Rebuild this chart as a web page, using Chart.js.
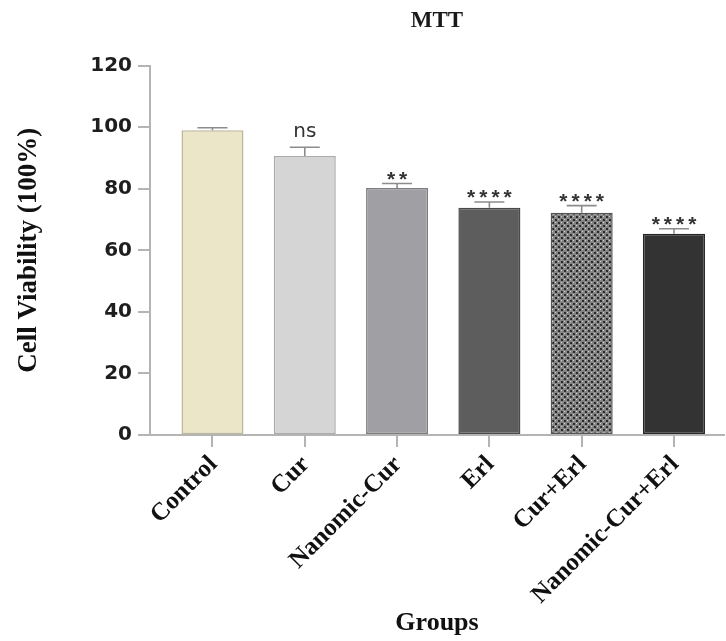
<!DOCTYPE html>
<html>
<head>
<meta charset="utf-8">
<title>MTT</title>
<script src="https://cdn.jsdelivr.net/npm/chart.js@4.4.1/dist/chart.umd.min.js"></script>
<style>
  html, body { margin: 0; padding: 0; background: #ffffff; }
  #wrap { width: 726px; height: 641px; }
</style>
</head>
<body>
<div id="wrap"><canvas id="chart" width="726" height="641"></canvas></div>
<script>
// Treatment groups and their measured cell viability (mean and error)
const categories = ['Control', 'Cur', 'Nanomic-Cur', 'Erl', 'Cur+Erl', 'Nanomic-Cur+Erl'];
const viability = [99.0, 90.6, 80.2, 73.8, 72.2, 65.4];
const errors = [0.8, 2.9, 1.5, 1.9, 2.3, 1.6];
const significance = ['', 'ns', '**', '****', '****', '****'];
const yTicks = [0, 20, 40, 60, 80, 100, 120];

// Dotted fill used for the combination group
function dotPattern() {
  const c = document.createElement('canvas');
  c.width = 6; c.height = 6;
  const g = c.getContext('2d');
  g.fillStyle = '#858585'; g.fillRect(0, 0, 6, 6);
  g.fillStyle = '#2a2a2a'; g.fillRect(0, 0, 2, 2); g.fillRect(3, 3, 2, 2);
  g.fillStyle = '#d2d2d2'; g.fillRect(3, 0, 1, 1); g.fillRect(0, 3, 1, 1);
  return g.createPattern(c, 'repeat');
}

const fills = ['#ece6c8', '#d5d5d5', '#a0a0a4', '#5d5d5d', dotPattern(), '#333333'];
const borders = ['#bdb79c', '#ababab', '#7c7c80', '#4a4a4a', '#555555', '#262626'];

// Error caps and significance marks above each bar
const errorBarPlugin = {
  id: 'errorBars',
  afterDatasetsDraw(chart) {
    const { ctx, scales: { y } } = chart;
    const meta = chart.getDatasetMeta(0);
    ctx.save();
    meta.data.forEach((bar, i) => {
      const cx = bar.x;
      const base = y.getPixelForValue(viability[i]);
      const cap = y.getPixelForValue(viability[i] + errors[i]);
      ctx.strokeStyle = '#8c8c8c';
      ctx.lineWidth = 1.6;
      ctx.beginPath();
      ctx.moveTo(cx, base);
      ctx.lineTo(cx, cap);
      ctx.moveTo(cx - 15, cap);
      ctx.lineTo(cx + 15, cap);
      ctx.stroke();

      const mark = significance[i];
      if (!mark) return;
      ctx.fillStyle = '#333333';
      ctx.textBaseline = 'alphabetic';
      ctx.textAlign = 'left';
      if (mark === 'ns') {
        ctx.font = '20px "DejaVu Sans"';
        ctx.letterSpacing = '0px';
        const w = ctx.measureText(mark).width;
        ctx.fillText(mark, cx - w / 2, cap - 10);
      } else {
        ctx.font = 'bold 21px "Liberation Sans"';
        ctx.letterSpacing = '4px';
        const w = ctx.measureText(mark).width - 4;
        ctx.fillText(mark, cx - w / 2, cap + 2);
      }
    });
    ctx.restore();
  }
};

const axisColor = '#b4b4b4';

new Chart(document.getElementById('chart'), {
  type: 'bar',
  data: {
    datasets: [{
      data: viability.map((v, i) => ({ x: i, y: v })),
      backgroundColor: fills,
      borderColor: borders,
      borderWidth: 1.5,
      borderSkipped: false,
      barPercentage: 0.672,
      categoryPercentage: 1
    }]
  },
  options: {
    responsive: false,
    animation: false,
    layout: { padding: { left: 0, right: 2, top: 0, bottom: 0 } },
    plugins: {
      legend: { display: false },
      tooltip: { enabled: false },
      title: {
        display: true,
        text: 'MTT',
        fullSize: false,
        color: '#1a1a1a',
        font: { family: '"Liberation Serif"', size: 23, weight: 'bold' },
        padding: { top: 7, bottom: 31 }
      }
    },
    scales: {
      x: {
        type: 'linear',
        offset: false,
        min: -0.677,
        max: 5.542,
        afterBuildTicks(axis) { axis.ticks = categories.map((c, i) => ({ value: i })); },
        afterFit(axis) { axis.height = 206; },
        grid: { offset: false, drawOnChartArea: false, tickLength: 12, color: axisColor, lineWidth: 2 },
        border: { color: axisColor, width: 2 },
        ticks: {
          autoSkip: false,
          minRotation: 45,
          maxRotation: 45,
          padding: 3,
          labelOffset: 1,
          color: '#111111',
          font: { family: '"Liberation Serif"', size: 25, weight: 'bold' },
          callback: (v) => categories[v]
        },
        title: {
          display: true,
          text: 'Groups',
          color: '#111111',
          font: { family: '"Liberation Serif"', size: 26, weight: 'bold' },
          padding: { top: 0, bottom: 2 }
        }
      },
      y: {
        min: 0,
        max: 120,
        afterBuildTicks(axis) { axis.ticks = yTicks.map(v => ({ value: v })); },
        afterFit(axis) { axis.width = 150; },
        grid: { drawOnChartArea: false, tickLength: 12, color: axisColor, lineWidth: 2 },
        border: { color: axisColor, width: 2 },
        ticks: {
          padding: 6,
          color: '#1e1e1e',
          font: { family: '"DejaVu Sans"', size: 20, weight: 'bold' }
        },
        title: {
          display: true,
          text: 'Cell Viability (100%)',
          color: '#111111',
          font: { family: '"Liberation Serif"', size: 27, weight: 'bold' },
          padding: { top: 13, bottom: 0 }
        }
      }
    }
  },
  plugins: [errorBarPlugin]
});
</script>
</body>
</html>
